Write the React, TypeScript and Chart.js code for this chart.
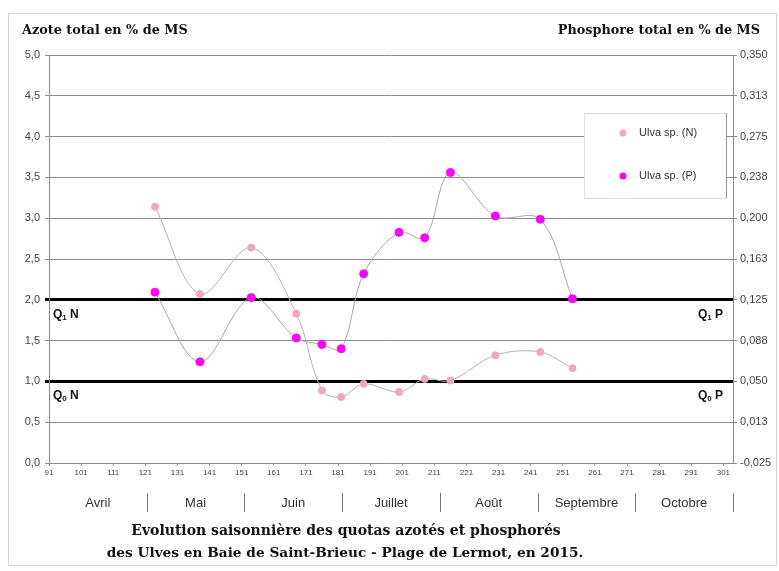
import { useEffect, useRef } from "react";
import { Chart, registerables } from "chart.js";

Chart.register(...registerables);

// ---- data ----
const sampleDays = [124, 138, 154, 168, 176, 182, 189, 200, 208, 216, 230, 244, 254];
const nitrogen = [3.14, 2.07, 2.64, 1.83, 0.89, 0.81, 0.97, 0.87, 1.03, 1.01, 1.32, 1.36, 1.16];
const phosphorus = [0.132, 0.068, 0.127, 0.09, 0.084, 0.08, 0.149, 0.187, 0.182, 0.242, 0.202, 0.199, 0.126];

const dayTicks = [91, 101, 111, 121, 131, 141, 151, 161, 171, 181, 191, 201, 211, 221, 231, 241, 251, 261, 271, 281, 291, 301];
const months = ["Avril", "Mai", "Juin", "Juillet", "Août", "Septembre", "Octobre"];
const nTicks = [0, 0.5, 1, 1.5, 2, 2.5, 3, 3.5, 4, 4.5, 5];
const pTicks = [-0.025, 0.0125, 0.05, 0.0875, 0.125, 0.1625, 0.2, 0.2375, 0.275, 0.3125, 0.35];
const pTickLabels = ["-0,025", "0,013", "0,050", "0,088", "0,125", "0,163", "0,200", "0,238", "0,275", "0,313", "0,350"];

const quotaN = [2, 1];
const quotaP = [0.125, 0.05];
const quotaSubs = ["1", "0"];

const seriesNames = ["Ulva sp. (N)", "Ulva sp. (P)"];
const seriesColors = ["#f2a7b9", "#ff00ff"];

const leftTitle = "Azote total en % de MS";
const rightTitle = "Phosphore total en % de MS";
const bottomTitle = [
  "Evolution saisonnière des quotas azotés et phosphorés",
  "des Ulves en Baie de Saint-Brieuc - Plage de Lermot, en 2015.",
];

const SANS = "'Liberation Sans', Arial, sans-serif";
const SERIF = "'DejaVu Serif', serif";

function drawQ(ctx: CanvasRenderingContext2D, x: number, y: number, sub: string, letter: string, align: "left" | "right") {
  ctx.font = `bold 12px ${SANS}`;
  const wQ = ctx.measureText("Q").width;
  ctx.font = `bold 8px ${SANS}`;
  const wS = ctx.measureText(sub).width;
  ctx.font = `bold 12px ${SANS}`;
  const wL = ctx.measureText(" " + letter).width;
  const total = wQ + wS + wL;
  const x0 = align === "left" ? x : x - total;
  ctx.textAlign = "left";
  ctx.textBaseline = "alphabetic";
  ctx.fillStyle = "#111";
  ctx.font = `bold 12px ${SANS}`;
  ctx.fillText("Q", x0, y);
  ctx.font = `bold 8px ${SANS}`;
  ctx.fillText(sub, x0 + wQ, y + 2);
  ctx.font = `bold 12px ${SANS}`;
  ctx.fillText(" " + letter, x0 + wQ + wS, y);
}

const decorPlugin = {
  id: "decor",
  beforeDraw(chart: any) {
    const { ctx } = chart;
    ctx.save();
    ctx.fillStyle = "#fff";
    ctx.fillRect(0, 0, chart.width, chart.height);
    ctx.strokeStyle = "#d6d6d6";
    ctx.lineWidth = 1;
    ctx.strokeRect(8.5, 13.5, chart.width - 11, chart.height - 19);
    ctx.restore();
  },
  afterDatasetsDraw(chart: any) {
    const { ctx } = chart;
    const area = chart.chartArea;
    // legend box
    const lx = area.right - 149;
    const ly = area.top + 58;
    const lw = 142;
    const lh = 85;
    ctx.save();
    ctx.fillStyle = "#fff";
    ctx.fillRect(lx, ly, lw, lh);
    ctx.strokeStyle = "#e0e0e0";
    ctx.lineWidth = 1;
    ctx.strokeRect(lx + 0.5, ly + 0.5, lw, lh);
    ctx.strokeStyle = "#9a9a9a";
    ctx.beginPath();
    ctx.moveTo(lx + lw + 0.5, ly);
    ctx.lineTo(lx + lw + 0.5, ly + lh);
    ctx.stroke();
    seriesNames.forEach((name, i) => {
      const my = ly + 20 + i * 43;
      ctx.fillStyle = seriesColors[i];
      ctx.beginPath();
      ctx.arc(lx + 39, my, 3.5, 0, Math.PI * 2);
      ctx.fill();
      ctx.fillStyle = "#333";
      ctx.font = `11px ${SANS}`;
      ctx.textAlign = "left";
      ctx.textBaseline = "middle";
      ctx.fillText(name, lx + 55, my);
    });
    ctx.restore();
  },
  afterDraw(chart: any) {
    const { ctx } = chart;
    const area = chart.chartArea;
    const y = chart.scales.y;
    const y2 = chart.scales.y2;
    const x2 = chart.scales.x2;
    ctx.save();
    // axis titles
    ctx.fillStyle = "#111";
    ctx.font = `bold 12.8px ${SERIF}`;
    ctx.textBaseline = "middle";
    ctx.textAlign = "left";
    ctx.fillText(leftTitle, 22, 31);
    ctx.textAlign = "right";
    ctx.fillText(rightTitle, 760, 31);

    // quota labels
    quotaN.forEach((v, i) => {
      drawQ(ctx, area.left + 4, y.getPixelForValue(v) + 18, quotaSubs[i], "N", "left");
    });
    quotaP.forEach((v, i) => {
      drawQ(ctx, area.right - 10, y2.getPixelForValue(v) + 18, quotaSubs[i], "P", "right");
    });

    // month separators
    ctx.strokeStyle = "#777";
    ctx.lineWidth = 1;
    for (let i = 1; i <= months.length; i++) {
      const px = Math.round(x2.getPixelForValue(i - 0.5)) + 0.5;
      ctx.beginPath();
      ctx.moveTo(px, x2.top + 8);
      ctx.lineTo(px, x2.top + 27);
      ctx.stroke();
    }

    // bottom title
    ctx.fillStyle = "#111";
    ctx.font = `bold 14px ${SERIF}`;
    ctx.textAlign = "center";
    ctx.textBaseline = "middle";
    ctx.fillText(bottomTitle[0], 346, 531);
    ctx.font = `bold 13.7px ${SERIF}`;
    ctx.fillText(bottomTitle[1], 345, 553);
    ctx.restore();
  },
};

export default function App() {
  const ref = useRef<HTMLCanvasElement | null>(null);

  useEffect(() => {
    if (!ref.current) return;
    Chart.defaults.font.family = SANS;
    const chart = new Chart(ref.current, {
      type: "scatter",
      data: {
        datasets: [
          {
            label: seriesNames[1],
            data: sampleDays.map((d, i) => ({ x: d, y: phosphorus[i] })),
            yAxisID: "y2",
            xAxisID: "x",
            showLine: true,
            tension: 0.35,
            borderColor: "#a9a9a9",
            borderWidth: 1,
            pointBackgroundColor: seriesColors[1],
            pointBorderColor: seriesColors[1],
            pointRadius: 4,
            order: 0,
          },
          {
            label: seriesNames[0],
            data: sampleDays.map((d, i) => ({ x: d, y: nitrogen[i] })),
            yAxisID: "y",
            xAxisID: "x",
            showLine: true,
            tension: 0.35,
            borderColor: "#b4b4b4",
            borderWidth: 1,
            pointBackgroundColor: seriesColors[0],
            pointBorderColor: seriesColors[0],
            pointRadius: 3.5,
            order: 1,
          },
        ],
      },
      options: {
        animation: false,
        responsive: false,
        maintainAspectRatio: false,
        layout: { padding: { top: 55, left: 0, right: 0, bottom: 0 } },
        plugins: { legend: { display: false }, tooltip: { enabled: false }, title: { display: false } },
        scales: {
          x: {
            type: "linear",
            position: "bottom",
            min: 91,
            max: 304,
            afterBuildTicks: (s: any) => {
              s.ticks = dayTicks.map((v) => ({ value: v }));
            },
            afterFit: (s: any) => {
              s.height = 22;
            },
            grid: { drawOnChartArea: false, drawTicks: true, tickLength: 3, color: "#999" },
            border: { display: true, color: "#8a8a8a" },
            ticks: {
              font: { size: 8, family: SANS },
              color: "#444",
              padding: 2,
              maxRotation: 0,
              autoSkip: false,
              callback: (v: any) => String(v),
            },
          },
          x2: {
            type: "category",
            labels: months,
            position: "bottom",
            offset: true,
            grid: { display: false },
            border: { display: false },
            afterFit: (s: any) => {
              s.height = 86;
            },
            ticks: { font: { size: 13, family: SANS }, color: "#333", padding: 3, maxRotation: 0, autoSkip: false },
          },
          y: {
            type: "linear",
            position: "left",
            min: 0,
            max: 5,
            afterBuildTicks: (s: any) => {
              s.ticks = nTicks.map((v) => ({ value: v }));
            },
            afterFit: (s: any) => {
              s.width = 49;
            },
            grid: {
              color: (c: any) => (c.tick && quotaN.includes(c.tick.value) ? "#000" : "#8c8c8c"),
              lineWidth: (c: any) => (c.tick && quotaN.includes(c.tick.value) ? 3 : 1),
              tickLength: 4,
            },
            border: { color: "#8a8a8a" },
            ticks: {
              font: { size: 11, family: SANS },
              color: "#444",
              padding: 5,
              callback: (v: any) => Number(v).toFixed(1).replace(".", ","),
            },
          },
          y2: {
            type: "linear",
            position: "right",
            min: -0.025,
            max: 0.35,
            afterBuildTicks: (s: any) => {
              s.ticks = pTicks.map((v) => ({ value: v }));
            },
            afterFit: (s: any) => {
              s.width = 46;
            },
            grid: { drawOnChartArea: false, tickLength: 4, color: "#8c8c8c" },
            border: { color: "#8a8a8a" },
            ticks: {
              font: { size: 11, family: SANS },
              color: "#444",
              padding: 3,
              callback: (_v: any, i: number) => pTickLabels[i],
            },
          },
        },
      } as any,
      plugins: [decorPlugin],
    });
    return () => chart.destroy();
  }, []);

  return (
    <div style={{ position: "fixed", left: 0, top: 0, width: 779, height: 571 }}>
      <canvas ref={ref} width={779} height={571} style={{ display: "block", width: 779, height: 571 }} />
    </div>
  );
}
